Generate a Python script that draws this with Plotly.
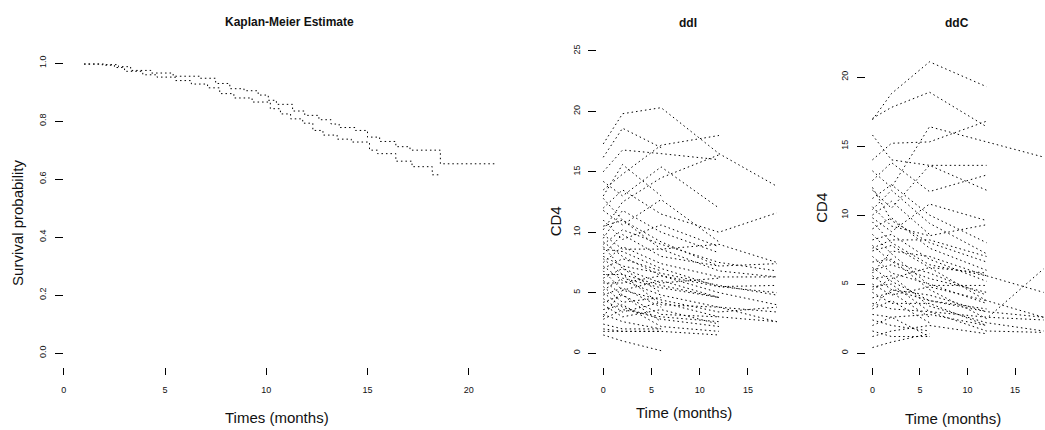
import plotly.graph_objects as go

# ---- Kaplan-Meier survival estimates (two treatment groups), step functions ----
km_time_a = [1.0, 2.0, 2.7, 3.3, 4.3, 5.4, 6.7, 7.5, 8.2, 8.9, 9.6, 10.1, 10.5,
             11.3, 11.9, 12.6, 13.2, 13.6, 14.4, 15.0, 15.6, 16.4, 17.1, 18.6, 21.4]
km_surv_a = [0.997, 0.995, 0.988, 0.975, 0.966, 0.955, 0.948, 0.930, 0.912, 0.905,
             0.890, 0.872, 0.858, 0.835, 0.820, 0.805, 0.790, 0.778, 0.768, 0.745,
             0.730, 0.712, 0.700, 0.653, 0.653]
km_time_b = [1.0, 1.9, 2.5, 3.0, 3.9, 4.6, 5.5, 6.3, 7.1, 7.7, 8.4, 9.3, 10.2, 10.7,
             11.2, 11.8, 12.3, 12.8, 13.5, 14.2, 15.1, 15.5, 16.4, 17.2, 18.2, 18.5]
km_surv_b = [0.997, 0.993, 0.985, 0.972, 0.960, 0.952, 0.940, 0.928, 0.915, 0.895,
             0.880, 0.866, 0.843, 0.825, 0.808, 0.793, 0.768, 0.752, 0.738, 0.728,
             0.700, 0.688, 0.662, 0.643, 0.615, 0.615]

# ---- CD4 trajectories: visit months and per-patient values (None = no visit) ----
visit_months = [0, 2, 6, 12, 18]

cd4_ddi = [
    [17.3, 19.8, 20.3, 16.5, 13.8],
    [16.2, 18.6, 17.0, None, None],
    [13.5, 14.8, 17.2, 18.0, None],
    [15.0, 16.8, 16.5, 16.0, None],
    [14.2, 13.0, 15.4, 12.0, None],
    [12.0, 13.5, 11.5, 10.0, 11.6],
    [11.8, 10.6, 12.7, 9.2, None],
    [10.5, 11.0, 8.6, 9.0, 7.5],
    [9.8, 8.6, 8.6, 6.8, 6.3],
    [9.5, 11.8, 10.0, 8.3, None],
    [9.0, 10.2, 9.0, 7.5, 6.8],
    [8.6, 8.4, 7.0, 5.5, 5.0],
    [8.2, 9.8, 8.0, 7.2, None],
    [8.0, 7.2, 6.6, 5.6, 4.8],
    [7.8, 6.5, 5.6, 4.6, None],
    [7.5, 8.8, 7.4, 6.3, 6.3],
    [7.2, 6.0, 4.8, 3.8, 3.4],
    [7.0, 7.8, 6.8, None, None],
    [6.8, 5.2, 6.0, 4.6, None],
    [6.5, 6.5, 4.0, 3.8, 2.6],
    [6.2, 7.0, 5.0, None, None],
    [6.0, 4.8, 3.2, 3.0, None],
    [5.8, 5.8, 6.4, 5.5, 5.6],
    [5.5, 4.2, 4.6, None, None],
    [5.2, 6.2, 5.4, 4.6, None],
    [5.0, 3.8, 2.8, 2.2, None],
    [4.8, 5.4, 3.8, None, None],
    [4.5, 3.4, 4.2, 3.0, 2.6],
    [4.2, 4.8, 2.6, None, None],
    [4.0, 3.0, 3.6, 2.4, None],
    [3.6, 4.0, 2.2, 1.8, None],
    [3.2, 2.6, 2.0, None, None],
    [2.8, 3.6, 3.0, 2.6, None],
    [2.4, 2.0, 2.0, None, None],
    [2.0, 1.8, 1.8, 1.5, None],
    [1.8, 1.8, 1.8, None, None],
    [1.5, 1.0, 0.2, None, None],
    [10.2, 12.5, 14.5, 16.4, None],
    [11.0, 9.4, 10.6, 8.8, None],
    [12.8, 11.0, 9.2, 7.2, 7.4],
    [13.0, 15.6, 13.0, None, None],
    [8.8, 7.0, 5.8, 6.2, None],
    [3.0, 5.2, 4.4, 3.4, 3.8],
    [9.2, 8.0, 6.4, 5.0, 4.0],
]

cd4_ddc = [
    [16.9, 18.8, 21.1, 19.3, None],
    [17.0, 17.8, 18.9, 16.4, None],
    [14.0, 15.2, 15.3, 16.8, None],
    [15.8, 14.0, 13.6, 13.6, None],
    [13.2, 12.0, 16.4, 15.3, 14.2],
    [12.5, 13.8, 11.7, 12.9, None],
    [11.8, 10.5, 13.6, 11.8, None],
    [11.2, 12.2, 10.0, 8.0, None],
    [10.6, 9.2, 8.5, 9.3, None],
    [10.0, 11.0, 8.6, None, None],
    [9.5, 8.0, 6.4, 5.6, 4.4],
    [9.0, 9.8, 7.6, 6.0, None],
    [8.6, 7.2, 4.9, 4.9, None],
    [8.2, 8.6, 6.8, 5.2, None],
    [7.8, 6.6, 5.8, 4.2, None],
    [7.4, 7.8, 6.2, 5.8, None],
    [7.0, 5.8, 5.0, 3.6, None],
    [6.6, 6.8, 4.6, 2.5, 6.1],
    [6.2, 5.2, 3.8, 3.0, 2.6],
    [6.0, 6.4, 5.4, 4.4, None],
    [5.6, 4.6, 4.2, 3.0, None],
    [5.4, 5.6, 3.4, 2.2, 1.6],
    [5.0, 4.2, 4.8, 3.8, None],
    [4.8, 5.0, 3.0, 2.6, 2.4],
    [4.4, 3.6, 3.6, 2.0, None],
    [4.0, 4.4, 2.6, None, None],
    [3.6, 3.2, 3.0, 1.6, 1.5],
    [3.2, 3.8, 2.2, None, None],
    [2.8, 2.6, 2.8, 2.0, None],
    [2.4, 2.0, 1.6, None, None],
    [2.0, 2.6, 1.2, None, None],
    [1.6, 1.2, 1.2, None, None],
    [1.2, 1.6, 2.0, 1.4, None],
    [0.4, 0.8, 1.4, None, None],
    [9.8, 8.8, 10.8, 9.6, None],
    [7.6, 8.2, 8.2, 7.0, None],
    [5.8, 7.4, 7.0, 5.6, None],
    [12.0, 9.6, 8.0, 6.6, None],
    [4.6, 5.4, 6.2, 3.8, 2.6],
    [10.4, 11.8, 9.4, 7.2, None],
    [3.4, 4.6, 3.8, 3.2, None],
]

W, H = 1045, 430
FONT = "Liberation Sans, Arial, sans-serif"
DOT = "1.5px,3px"


def px_x(p):
    return p / W


def px_y(p):
    return 1 - p / H


def spaghetti(rows):
    xs, ys = [], []
    for row in rows:
        for t, v in zip(visit_months, row):
            if v is not None:
                xs.append(t)
                ys.append(v)
        xs.append(None)
        ys.append(None)
    return xs, ys


fig = go.Figure()

fig.add_trace(go.Scatter(x=km_time_a, y=km_surv_a, mode="lines", line_shape="hv",
                         line=dict(color="black", width=1, dash=DOT),
                         xaxis="x", yaxis="y", showlegend=False, hoverinfo="skip"))
fig.add_trace(go.Scatter(x=km_time_b, y=km_surv_b, mode="lines", line_shape="hv",
                         line=dict(color="black", width=1, dash=DOT),
                         xaxis="x", yaxis="y", showlegend=False, hoverinfo="skip"))

xi, yi = spaghetti(cd4_ddi)
fig.add_trace(go.Scatter(x=xi, y=yi, mode="lines", connectgaps=False,
                         line=dict(color="black", width=1, dash=DOT),
                         xaxis="x2", yaxis="y2", showlegend=False, hoverinfo="skip"))
xc, yc = spaghetti(cd4_ddc)
fig.add_trace(go.Scatter(x=xc, y=yc, mode="lines", connectgaps=False,
                         line=dict(color="black", width=1, dash=DOT),
                         xaxis="x3", yaxis="y3", showlegend=False, hoverinfo="skip"))

ydom = [px_y(366), px_y(45)]
tick_font = dict(family=FONT, size=9, color="#111")
common_x = dict(showgrid=False, zeroline=False, showline=False, ticks="outside",
                ticklen=7, tickwidth=1, tickcolor="black", tickfont=tick_font,
                ticklabelstandoff=7, fixedrange=True)
common_y = dict(showgrid=False, zeroline=False, showline=False, ticks="outside",
                ticklen=8, tickwidth=1, tickcolor="black", tickfont=tick_font,
                tickangle=-90, ticklabelstandoff=5, fixedrange=True)

fig.update_layout(
    width=W, height=H,
    margin=dict(l=0, r=0, t=0, b=0),
    paper_bgcolor="white", plot_bgcolor="white",
    font=dict(family=FONT, color="#111"),
    xaxis=dict(domain=[px_x(61), px_x(517)], range=[0, 22.46], anchor="y",
               tickvals=[0, 5, 10, 15, 20], **common_x),
    yaxis=dict(domain=ydom, range=[-0.0476, 1.0442], anchor="x",
               tickvals=[0, 0.2, 0.4, 0.6, 0.8, 1.0],
               ticktext=["0.0", "0.2", "0.4", "0.6", "0.8", "1.0"], **common_y),
    xaxis2=dict(domain=[px_x(596), px_x(783)], range=[-0.62, 18.72], anchor="y2",
                tickvals=[0, 5, 10, 15], **common_x),
    yaxis2=dict(domain=ydom, range=[-1.14, 25.04], anchor="x2",
                tickvals=[0, 5, 10, 15, 20, 25], **common_y),
    xaxis3=dict(domain=[px_x(865), 1.0], range=[-0.73, 18.15], anchor="y3",
                tickvals=[0, 5, 10, 15], **common_x),
    yaxis3=dict(domain=ydom, range=[-1.0, 21.93], anchor="x3",
                tickvals=[0, 5, 10, 15, 20], **common_y),
)


def label(text, x, y, size, bold=False, angle=0):
    fig.add_annotation(text=f"<b>{text}</b>" if bold else text,
                       x=px_x(x), y=px_y(y), xref="paper", yref="paper",
                       xanchor="center", yanchor="middle", showarrow=False,
                       textangle=angle, font=dict(family=FONT, size=size, color="#111"))


label("Kaplan-Meier Estimate", 287, 16, 12, bold=True)
label("ddI", 687, 17, 12, bold=True)
label("ddC", 957, 17, 12, bold=True)
label("Times (months)", 275, 417, 15)
label("Survival probability", 15, 220, 15, angle=-90)
label("Time (months)", 683, 412, 15)
label("CD4", 555, 218, 15, angle=-90)
label("Time (months)", 953, 418, 15)
label("CD4", 820, 205, 15, angle=-90)

fig.write_html("out.html")
